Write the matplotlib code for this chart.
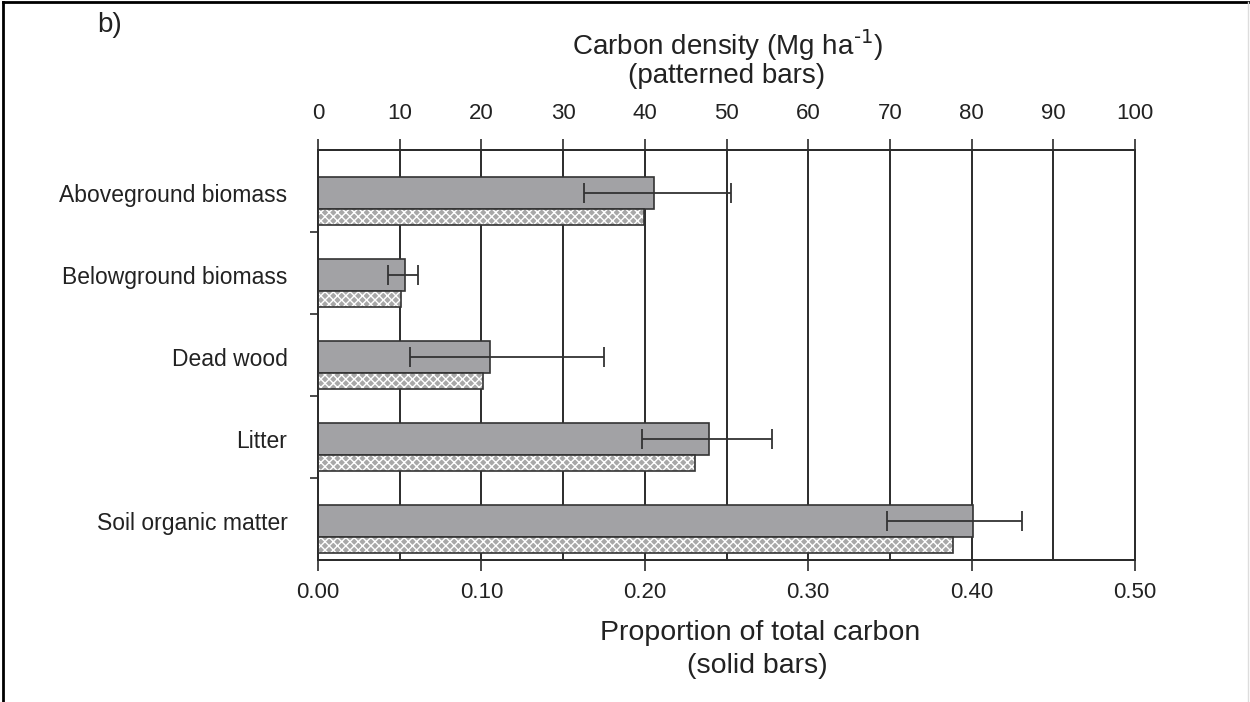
import numpy as np
import matplotlib.pyplot as plt
from matplotlib.lines import Line2D

plt.rcParams['font.family'] = ['Liberation Sans', 'DejaVu Sans']

categories = ['Aboveground biomass', 'Belowground biomass', 'Dead wood', 'Litter', 'Soil organic matter']
proportion = [0.2055, 0.053, 0.105, 0.239, 0.401]
prop_low = [0.163, 0.043, 0.056, 0.198, 0.348]
prop_high = [0.253, 0.061, 0.175, 0.278, 0.431]
density = [39.9, 10.2, 20.2, 46.1, 77.7]

bottom_ticks = [0.0, 0.1, 0.2, 0.3, 0.4, 0.5]
top_ticks = [0, 10, 20, 30, 40, 50, 60, 70, 80, 90, 100]

ink = '#2b2b2b'
fig = plt.figure(figsize=(12.5, 7.02), dpi=100)
ax = fig.add_axes([318/1250, 1 - 560/702, (1135-318)/1250, (560-150)/702])
ax2 = ax.twiny()

y = np.arange(len(categories))
solid_y = y + 0.025
patt_y = y + 0.315

# grid lines every 0.05
for g in np.arange(0.05, 0.5, 0.05):
    ax.axvline(g, color=ink, lw=1.4, zorder=0)

ax.barh(solid_y, proportion, height=0.39, color='#a2a2a5', edgecolor='#333333', lw=1.2, zorder=2)
err = [np.array(proportion) - np.array(prop_low), np.array(prop_high) - np.array(proportion)]
ax.errorbar(proportion, solid_y, xerr=err, fmt='none', ecolor='#333333', elinewidth=1.3,
            capsize=7, capthick=1.3, zorder=3)

# patterned bars on the carbon-density scale
ax2.barh(patt_y, density, height=0.195, color='#a8a8a8', edgecolor='white', hatch='xxxx', lw=0, zorder=2)
ax2.barh(patt_y, density, height=0.195, fill=False, edgecolor='#333333', lw=1.2, zorder=3)

ax.set_xlim(0, 0.5)
ax2.set_xlim(0, 100)
ax.set_ylim(4.5, -0.5)

ax.set_xticks(bottom_ticks)
ax.set_xticklabels(['%.2f' % t for t in bottom_ticks])
ax2.set_xticks(top_ticks)
ax2.set_xticklabels([str(t) for t in top_ticks])
ax.set_yticks(solid_y)
ax.set_yticklabels(categories)
ax.set_yticks(y[:-1] + 0.5, minor=True)
ax.tick_params(axis='y', which='major', length=0, pad=22, labelsize=16.5, labelcolor='#222222')
ax.tick_params(axis='y', which='minor', length=6, width=1.2, color=ink)
ax.tick_params(axis='x', length=8, width=1.2, color=ink, pad=8, labelsize=16, labelcolor='#222222')
ax2.tick_params(axis='x', length=8, width=1.2, color=ink, pad=11, labelsize=16, labelcolor='#222222')
for a in (ax, ax2):
    for s in a.spines.values():
        s.set_color(ink)
        s.set_linewidth(1.3)

fig.text(727/1250, 1 - 45/702, r'Carbon density (Mg ha$^{\text{-1}}$)', ha='center', va='center', fontsize=20, color='#222222')
fig.text(727/1250, 1 - 76/702, '(patterned bars)', ha='center', va='center', fontsize=20, color='#222222')
fig.text(760/1250, 1 - 633/702, 'Proportion of total carbon', ha='center', va='center', fontsize=20.5, color='#222222')
fig.text(757/1250, 1 - 666/702, '(solid bars)', ha='center', va='center', fontsize=20.5, color='#222222')
fig.text(97/1250, 1 - 25/702, 'b)', ha='left', va='center', fontsize=20, color='#222222')

fig.add_artist(Line2D([0.002, 0.002], [0, 0.997], color='black', lw=2))
fig.add_artist(Line2D([0.002, 1], [0.997, 0.997], color='black', lw=2))
fig.add_artist(Line2D([0.998, 0.998], [0, 0.997], color='#dddddd', lw=1))

fig.savefig('out.png', dpi=100)
